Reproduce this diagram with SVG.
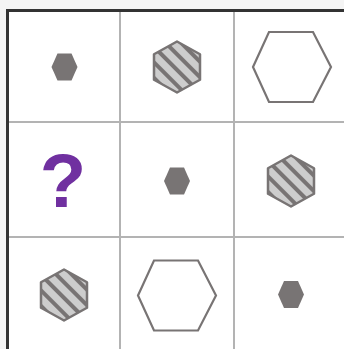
<svg xmlns="http://www.w3.org/2000/svg" width="344" height="349" viewBox="0 0 344 349">
  <defs>
    <pattern id="stripes" patternUnits="userSpaceOnUse" width="11" height="11" patternTransform="rotate(45)">
      <rect width="11" height="11" fill="#cdcdcd"/>
      <rect width="11" height="4" y="0" fill="#787474"/>
    </pattern>
    <polygon id="small" points="-13,0 -7,-13.5 7,-13.5 13,0 7,13.5 -7,13.5"/>
    <polygon id="striped" points="0,-25.5 23,-12.75 23,12.75 0,25.5 -23,12.75 -23,-12.75"/>
    <polygon id="large" points="-39,0 -23,-35 21,-35 39,0 21,35 -23,35"/>
  </defs>
  <style>
    .bg { fill: #f4f4f4; }
    .board { fill: #ffffff; stroke: #333333; stroke-width: 3; }
    .grid { stroke: #b3b3b3; stroke-width: 2; fill: none; }
    .small { fill: #787474; }
    .striped { fill: url(#stripes); stroke: #787474; stroke-width: 2.5; stroke-linejoin: round; }
    .large { fill: #ffffff; stroke: #787474; stroke-width: 2.2; }
    .q { font-family: "Liberation Sans", Arial, sans-serif; font-weight: bold; font-size: 76px; fill: #7030a0; }
  </style>
  <rect class="bg" x="0" y="0" width="344" height="349"/>
  <rect class="board" x="7.5" y="10.5" width="345" height="345"/>
  <g id="grid">
    <line class="grid" x1="120" y1="12" x2="120" y2="349"/>
    <line class="grid" x1="234" y1="12" x2="234" y2="349"/>
    <line class="grid" x1="9" y1="122" x2="344" y2="122"/>
    <line class="grid" x1="9" y1="237" x2="344" y2="237"/>
  </g>
  <g id="cell-1-1" transform="translate(64.5,67)"><use href="#small" class="small"/></g>
  <g id="cell-1-2" transform="translate(177,67)"><use href="#striped" class="striped"/></g>
  <g id="cell-1-3" transform="translate(292,67)"><use href="#large" class="large"/></g>
  <g id="cell-2-1"><text class="q" x="63" y="207" text-anchor="middle">?</text></g>
  <g id="cell-2-2" transform="translate(177,181)"><use href="#small" class="small"/></g>
  <g id="cell-2-3" transform="translate(291,181)"><use href="#striped" class="striped"/></g>
  <g id="cell-3-1" transform="translate(64,295)"><use href="#striped" class="striped"/></g>
  <g id="cell-3-2" transform="translate(177,295.5)"><use href="#large" class="large"/></g>
  <g id="cell-3-3" transform="translate(291,294.5)"><use href="#small" class="small"/></g>
</svg>
